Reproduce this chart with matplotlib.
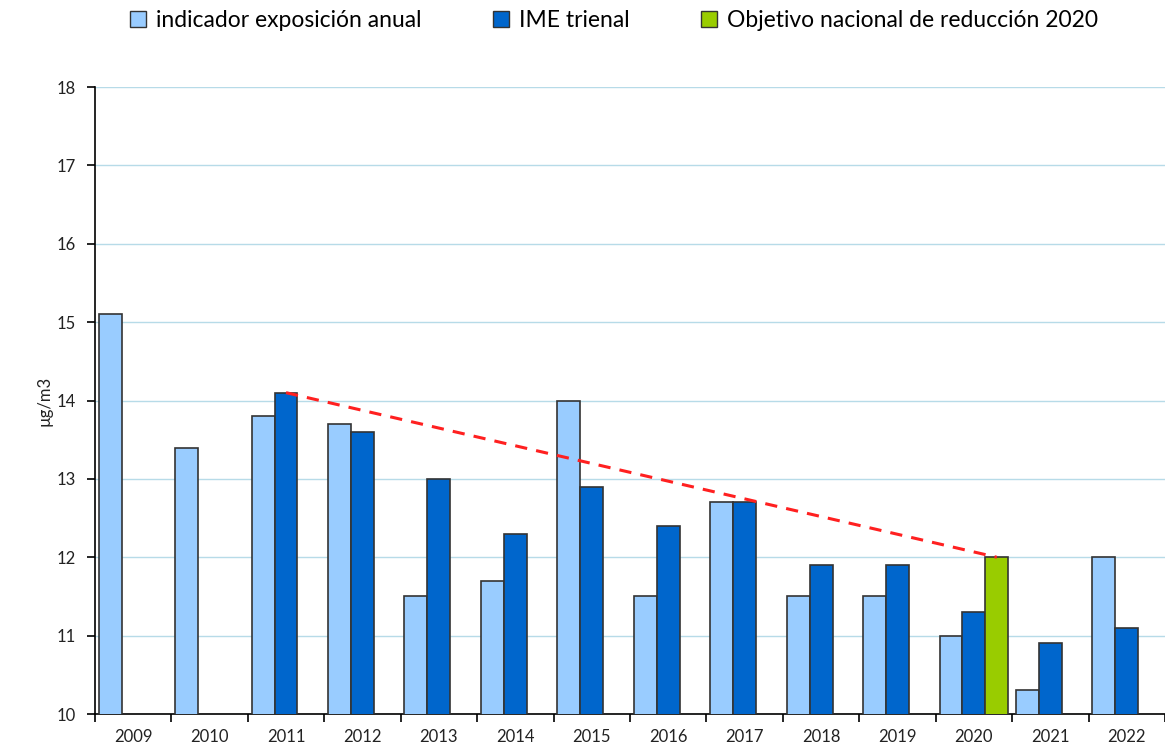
import numpy as np
import matplotlib
matplotlib.use("Agg")
import matplotlib.pyplot as plt
from matplotlib.patches import Patch

years = ['2009', '2010', '2011', '2012', '2013', '2014', '2015', '2016',
         '2017', '2018', '2019', '2020', '2021', '2022']
anual = [15.1, 13.4, 13.8, 13.7, 11.5, 11.7, 14.0, 11.5, 12.7, 11.5, 11.5, 11.0, 10.3, 12.0]
trienal = [np.nan, np.nan, 14.1, 13.6, 13.0, 12.3, 12.9, 12.4, 12.7, 11.9, 11.9, 11.3, 10.9, 11.1]
objetivo = [np.nan] * 11 + [12.0] + [np.nan] * 2

c_anual = '#99ccff'
c_trienal = '#0066cc'
c_obj = '#99cc00'
edge = '#333333'

plt.rcParams['font.family'] = ['Lato', 'DejaVu Sans']

fig = plt.figure(figsize=(11.65, 7.45), dpi=100)
ax = fig.add_axes([0.0815, 0.0416, 0.9185, 0.8416])

x = np.arange(len(years))
w = 0.3
ax.bar(x + 0.05, anual, w, align='edge', color=c_anual, edgecolor=edge, linewidth=1.2, zorder=3)
ax.bar(x + 0.35, trienal, w, align='edge', color=c_trienal, edgecolor=edge, linewidth=1.2, zorder=3)
ax.bar(x + 0.65, objetivo, w, align='edge', color=c_obj, edgecolor=edge, linewidth=1.2, zorder=3)

# linea de reduccion desde IME 2011 hasta objetivo 2020
i0 = years.index('2011')
i1 = years.index('2020')
ax.plot([x[i0] + 0.5, x[i1] + 0.8], [trienal[i0], objetivo[i1]],
        color='#ff2020', linestyle=(0, (4, 3)), linewidth=2.2, zorder=4)

ax.set_xlim(0, len(years))
ax.set_ylim(10, 18)
ax.set_yticks(range(10, 19))
ax.yaxis.grid(True, color='#b7dbe8', linewidth=1.0, zorder=0)

ax.set_xticks(np.arange(len(years) + 1))
ax.set_xticklabels([])
ax.set_xticks(x + 0.5, minor=True)
ax.set_xticklabels(years, minor=True)
ax.tick_params(axis='x', which='minor', length=0, pad=11, labelsize=12, colors='#222222')
ax.tick_params(axis='x', which='major', length=6, width=1.2, direction='out')
ax.tick_params(axis='y', length=6, width=1.2, labelsize=12, colors='#222222', pad=8)
ax.tick_params(axis='both', which='both', color='black')

for s in ['top', 'right']:
    ax.spines[s].set_visible(False)
for s in ['left', 'bottom']:
    ax.spines[s].set_linewidth(1.2)
    ax.spines[s].set_color('black')

ax.set_ylabel('µg/m3', fontsize=12, labelpad=3, color='#222222')

handles = [Patch(facecolor=c_anual, edgecolor=edge),
           Patch(facecolor=c_trienal, edgecolor=edge),
           Patch(facecolor=c_obj, edgecolor=edge)]
labels = ['indicador exposición anual', 'IME trienal', 'Objetivo nacional de reducción 2020']
fig.legend(handles, labels, loc='upper center', bbox_to_anchor=(0.527, 1.014), ncol=3,
           frameon=False, fontsize=16.5, handlelength=0.7, handleheight=0.7,
           handletextpad=0.45, columnspacing=3.1)

fig.savefig('out.png', dpi=100)
